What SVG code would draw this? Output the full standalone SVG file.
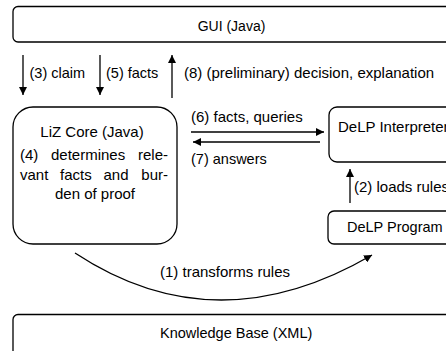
<svg xmlns="http://www.w3.org/2000/svg" width="446" height="351" viewBox="0 0 446 351">
  <style>
    .box { fill: #ffffff; stroke: #000000; stroke-width: 1.3; }
    .lbl { font-family: "Liberation Sans", Arial, sans-serif; font-size: 15px; fill: #000000; }
    .sm { font-size: 14.5px; }
    .mid { text-anchor: middle; }
    .edge { fill: none; stroke: #000000; stroke-width: 1.3; }
  </style>
  <defs>
    <marker id="head" viewBox="0 0 10 10" refX="10" refY="5" markerWidth="8" markerHeight="8" markerUnits="userSpaceOnUse" orient="auto">
      <path d="M0,0 L10,5 L0,10 Z" fill="#000000"/>
    </marker>
  </defs>
  <rect x="0" y="0" width="446" height="351" fill="#ffffff"/>

  <g id="gui">
    <rect class="box" x="13" y="6.5" width="460" height="35.5" rx="5"/>
    <text class="lbl mid" x="231.5" y="31" style="font-size:14px">GUI (Java)</text>
  </g>

  <g id="liz-core">
    <rect class="box" x="13" y="107" width="164" height="137" rx="20"/>
    <text class="lbl mid" x="92" y="137">LiZ Core (Java)</text>
    <!-- justified paragraph: words placed across the full line width -->
    <text class="lbl" y="160"><tspan x="20">(4)</tspan><tspan x="51">determines</tspan><tspan x="168" text-anchor="end">rele-</tspan></text>
    <text class="lbl" y="180"><tspan x="20">vant</tspan><tspan x="60">facts</tspan><tspan x="103.5">and</tspan><tspan x="168" text-anchor="end">bur-</tspan></text>
    <text class="lbl mid" x="95" y="199">den of proof</text>
  </g>

  <g id="delp-interpreter">
    <rect class="box" x="329" y="107" width="140" height="55" rx="8"/>
    <text class="lbl" x="338" y="132">DeLP Interpreter</text>
  </g>

  <g id="delp-program">
    <rect class="box" x="328" y="211" width="140" height="33" rx="6"/>
    <text class="lbl sm" x="347" y="232">DeLP Program</text>
  </g>

  <g id="knowledge-base">
    <rect class="box" x="13" y="314.5" width="460" height="50" rx="5"/>
    <text class="lbl sm" x="160" y="338">Knowledge Base (XML)</text>
  </g>

  <g id="connectors">
    <line class="edge" x1="23" y1="55" x2="23" y2="95" marker-end="url(#head)"/>
    <text class="lbl sm" x="29.5" y="78">(3) claim</text>

    <line class="edge" x1="100" y1="55" x2="100" y2="95" marker-end="url(#head)"/>
    <text class="lbl sm" x="106" y="78">(5) facts</text>

    <line class="edge" x1="172" y1="98" x2="172" y2="55" marker-end="url(#head)"/>
    <text class="lbl" x="184" y="78">(8) (preliminary) decision, explanation</text>

    <line class="edge" x1="191" y1="132" x2="324" y2="132" marker-end="url(#head)"/>
    <text class="lbl" x="191" y="122">(6) facts, queries</text>

    <line class="edge" x1="320" y1="142" x2="193" y2="142" marker-end="url(#head)"/>
    <text class="lbl sm" x="191" y="164">(7) answers</text>

    <line class="edge" x1="350" y1="203" x2="350" y2="169" marker-end="url(#head)"/>
    <text class="lbl" x="354" y="192">(2) loads rules</text>

    <path class="edge" d="M75,253 Q216,346 372,255" marker-end="url(#head)"/>
    <text class="lbl" x="160" y="277">(1) transforms rules</text>
  </g>
</svg>
